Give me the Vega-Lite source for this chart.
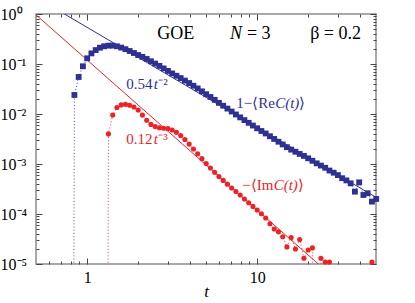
{
  "$schema": "https://vega.github.io/schema/vega-lite/v6.json",
  "width": 340,
  "height": 250,
  "autosize": "none",
  "padding": {"left": 36, "top": 14, "right": 39, "bottom": 39},
  "background": "white",
  "config": {
    "view": {"stroke": "#8c8c8c", "strokeWidth": 1.5},
    "axis": {"grid": false, "domain": false, "labelFont": "Liberation Serif", "labelFontSize": 16, "labelColor": "#000", "tickColor": "#444", "tickWidth": 1, "titleFont": "Liberation Serif", "titleFontWeight": "normal", "titleColor": "#000"},
    "text": {"font": "Liberation Serif"}
  },
  "datasets": {
    "re": [
      {"t": 0.794, "v": 1e-30},
      {"t": 0.841, "v": 0.024}, {"t": 0.891, "v": 0.055}, {"t": 0.944, "v": 0.09}, {"t": 1.0, "v": 0.13},
      {"t": 1.059, "v": 0.163}, {"t": 1.122, "v": 0.19}, {"t": 1.189, "v": 0.212}, {"t": 1.259, "v": 0.226},
      {"t": 1.334, "v": 0.233}, {"t": 1.413, "v": 0.233}, {"t": 1.496, "v": 0.226}, {"t": 1.585, "v": 0.213},
      {"t": 1.679, "v": 0.198}, {"t": 1.778, "v": 0.182}, {"t": 1.884, "v": 0.166}, {"t": 1.995, "v": 0.151},
      {"t": 2.113, "v": 0.139}, {"t": 2.239, "v": 0.126}, {"t": 2.371, "v": 0.1134}, {"t": 2.512, "v": 0.1019},
      {"t": 2.661, "v": 0.0916}, {"t": 2.818, "v": 0.0816}, {"t": 2.985, "v": 0.0727}, {"t": 3.162, "v": 0.0648},
      {"t": 3.35, "v": 0.0582}, {"t": 3.548, "v": 0.0523}, {"t": 3.758, "v": 0.0466}, {"t": 3.981, "v": 0.0416},
      {"t": 4.217, "v": 0.0368}, {"t": 4.467, "v": 0.0325}, {"t": 4.732, "v": 0.0284}, {"t": 5.012, "v": 0.0249},
      {"t": 5.309, "v": 0.0219}, {"t": 5.623, "v": 0.0192}, {"t": 5.957, "v": 0.0167}, {"t": 6.31, "v": 0.01465},
      {"t": 6.683, "v": 0.01282}, {"t": 7.079, "v": 0.01121}, {"t": 7.499, "v": 0.00979}, {"t": 7.943, "v": 0.00856},
      {"t": 8.414, "v": 0.00755}, {"t": 8.913, "v": 0.00666}, {"t": 9.441, "v": 0.00588}, {"t": 10.0, "v": 0.00518},
      {"t": 10.59, "v": 0.00457}, {"t": 11.22, "v": 0.00408}, {"t": 11.89, "v": 0.00359}, {"t": 12.59, "v": 0.00317},
      {"t": 13.34, "v": 0.00279}, {"t": 14.13, "v": 0.00246}, {"t": 14.96, "v": 0.00217}, {"t": 15.85, "v": 0.00194},
      {"t": 16.79, "v": 0.00176}, {"t": 17.78, "v": 0.00159}, {"t": 18.84, "v": 0.00145}, {"t": 19.95, "v": 0.0013},
      {"t": 21.13, "v": 0.00116}, {"t": 22.39, "v": 0.00103}, {"t": 23.71, "v": 0.00093}, {"t": 25.12, "v": 0.00084},
      {"t": 26.61, "v": 0.00074}, {"t": 28.18, "v": 0.00067}, {"t": 29.85, "v": 0.0006}, {"t": 31.62, "v": 0.00052},
      {"t": 33.5, "v": 0.00047}, {"t": 35.48, "v": 0.00041}, {"t": 37.58, "v": 0.00028}, {"t": 39.81, "v": 0.00043},
      {"t": 42.17, "v": 0.00024}, {"t": 44.67, "v": 0.00026}, {"t": 47.32, "v": 0.000177}, {"t": 50.12, "v": 0.0002}
    ],
    "im": [
      {"t": 1.259, "v": 1e-30},
      {"t": 1.334, "v": 0.004}, {"t": 1.413, "v": 0.0095}, {"t": 1.496, "v": 0.0135}, {"t": 1.585, "v": 0.0152},
      {"t": 1.679, "v": 0.0156}, {"t": 1.778, "v": 0.015}, {"t": 1.884, "v": 0.0138}, {"t": 1.995, "v": 0.012},
      {"t": 2.113, "v": 0.0095}, {"t": 2.239, "v": 0.0075}, {"t": 2.371, "v": 0.0062}, {"t": 2.512, "v": 0.0056},
      {"t": 2.661, "v": 0.0053}, {"t": 2.818, "v": 0.0052}, {"t": 2.985, "v": 0.0051}, {"t": 3.162, "v": 0.0048},
      {"t": 3.35, "v": 0.0043}, {"t": 3.548, "v": 0.0037}, {"t": 3.758, "v": 0.0031}, {"t": 3.981, "v": 0.0025},
      {"t": 4.217, "v": 0.002}, {"t": 4.467, "v": 0.0016}, {"t": 4.732, "v": 0.00128}, {"t": 5.012, "v": 0.00102},
      {"t": 5.309, "v": 0.00083}, {"t": 5.623, "v": 0.00068}, {"t": 5.957, "v": 0.00056}, {"t": 6.31, "v": 0.00047},
      {"t": 6.683, "v": 0.000395}, {"t": 7.079, "v": 0.00033}, {"t": 7.499, "v": 0.000282}, {"t": 7.943, "v": 0.00024},
      {"t": 8.414, "v": 0.0002}, {"t": 8.913, "v": 0.000168}, {"t": 9.441, "v": 0.000142}, {"t": 10.0, "v": 0.00012},
      {"t": 10.59, "v": 0.000101}, {"t": 11.22, "v": 0.000083}, {"t": 11.89, "v": 0.000064}, {"t": 12.59, "v": 0.00005},
      {"t": 13.34, "v": 0.000044}, {"t": 14.13, "v": 0.000035}, {"t": 14.96, "v": 0.000022}, {"t": 15.85, "v": 0.000034},
      {"t": 16.79, "v": 0.00002}, {"t": 17.78, "v": 0.000031}, {"t": 18.84, "v": 0.000013}, {"t": 19.95, "v": 0.000019},
      {"t": 21.13, "v": 0.000021}, {"t": 22.39, "v": 1e-30}, {"t": 23.71, "v": 0.000013}, {"t": 25.12, "v": 0.000011},
      {"t": 26.61, "v": 0.000011}, {"t": 28.18, "v": 1e-30}, {"t": 44.67, "v": 1e-30}, {"t": 47.32, "v": 0.000011},
      {"t": 50.12, "v": 1e-30}
    ],
    "fits": [
      {"series": "Re", "t": 0.5, "v": 2.16}, {"series": "Re", "t": 50, "v": 0.000216},
      {"series": "Im", "t": 0.5, "v": 0.96}, {"series": "Im", "t": 50, "v": 9.6e-7}
    ],
    "roman": [
      {"series": "note", "t": 2.58, "v": 0.316, "text": "GOE"},
      {"series": "note", "t": 8.70, "v": 0.316, "text": "= 3"},
      {"series": "note", "t": 20.5, "v": 0.316, "text": "β = 0.2"},
      {"series": "Re", "t": 1.696, "v": 0.0316, "text": "0.54"},
      {"series": "Re", "t": 2.617, "v": 0.0316, "text": "⁻²"},
      {"series": "Im", "t": 1.696, "v": 0.00251, "text": "0.12"},
      {"series": "Im", "t": 2.617, "v": 0.00251, "text": "⁻³"},
      {"series": "Re", "t": 7.52, "v": 0.01318, "text": "1−"},
      {"series": "Re", "t": 9.35, "v": 0.01318, "text": "⟨Re"},
      {"series": "Re", "t": 17.66, "v": 0.01318, "text": "⟩"},
      {"series": "Im", "t": 8.13, "v": 0.000302, "text": "−"},
      {"series": "Im", "t": 9.16, "v": 0.000302, "text": "⟨Im"},
      {"series": "Im", "t": 17.43, "v": 0.000302, "text": "⟩"}
    ],
    "italic": [
      {"series": "note", "t": 6.93, "v": 0.316, "text": "N"},
      {"series": "Re", "t": 2.461, "v": 0.0316, "text": "t"},
      {"series": "Im", "t": 2.461, "v": 0.00251, "text": "t"},
      {"series": "Re", "t": 12.76, "v": 0.01318, "text": "C(t)"},
      {"series": "Im", "t": 12.5, "v": 0.000302, "text": "C(t)"}
    ]
  },
  "resolve": {"axis": {"x": "independent", "y": "independent"}},
  "layer": [
    {
      "data": {"name": "fits"},
      "mark": {"type": "line", "strokeWidth": 1, "clip": true},
      "encoding": {
        "x": {"field": "t", "type": "quantitative", "scale": {"type": "log", "domain": [0.5, 50], "nice": false},
              "axis": {"orient": "bottom", "values": [1, 10], "format": "d", "ticks": false, "labelPadding": 5, "labelFont": "Liberation Serif", "labelFontSize": 16, "title": "t", "titleFont": "Liberation Serif", "titleFontStyle": "italic", "titleFontSize": 17, "titlePadding": -2}},
        "y": {"field": "v", "type": "quantitative", "scale": {"type": "log", "domain": [0.00001, 1], "nice": false},
              "axis": {"orient": "left", "values": [0.00001, 0.0001, 0.001, 0.01, 0.1, 1], "ticks": false, "labelAlign": "left", "labelPadding": 36, "labelBaseline": "middle", "labelFont": "Liberation Serif", "labelFontSize": 16, "title": null,
                       "labelExpr": "datum.value > 0.5 ? '10⁰' : datum.value > 0.05 ? '10⁻¹' : datum.value > 0.005 ? '10⁻²' : datum.value > 0.0005 ? '10⁻³' : datum.value > 0.00005 ? '10⁻⁴' : '10⁻⁵'"}},
        "color": {"field": "series", "type": "nominal", "scale": {"domain": ["Re", "Im", "note"], "range": ["#2e3192", "#ed2227", "#000000"]}, "legend": null},
        "detail": {"field": "series"}
      }
    },
    {
      "data": {"name": "re"},
      "mark": {"type": "line", "color": "#2e3192", "strokeWidth": 1, "strokeDash": [1.2, 2], "opacity": 0.75, "clip": true},
      "encoding": {
        "x": {"field": "t", "type": "quantitative", "scale": {"type": "log", "domain": [0.5, 50], "nice": false},
              "axis": {"orient": "bottom", "values": [1, 10], "labels": false, "tickSize": -6, "title": null}},
        "y": {"field": "v", "type": "quantitative", "scale": {"type": "log", "domain": [0.00001, 1], "nice": false},
              "axis": {"orient": "left", "values": [0.00001, 0.0001, 0.001, 0.01, 0.1, 1], "labels": false, "tickSize": -6, "title": null}}
      }
    },
    {
      "data": {"name": "im"},
      "mark": {"type": "line", "color": "#ed2227", "strokeWidth": 1, "strokeDash": [1.2, 2], "opacity": 0.75, "clip": true},
      "encoding": {
        "x": {"field": "t", "type": "quantitative", "scale": {"type": "log", "domain": [0.5, 50], "nice": false},
              "axis": {"orient": "bottom", "values": [0.6, 0.7, 0.8, 0.9, 2, 3, 4, 5, 6, 7, 8, 9, 20, 30, 40], "labels": false, "tickSize": -3, "title": null}},
        "y": {"field": "v", "type": "quantitative", "scale": {"type": "log", "domain": [0.00001, 1], "nice": false},
              "axis": {"orient": "left", "values": [0.00002, 0.00003, 0.00004, 0.00005, 0.00006, 0.00007, 0.00008, 0.00009, 0.0002, 0.0003, 0.0004, 0.0005, 0.0006, 0.0007, 0.0008, 0.0009, 0.002, 0.003, 0.004, 0.005, 0.006, 0.007, 0.008, 0.009, 0.02, 0.03, 0.04, 0.05, 0.06, 0.07, 0.08, 0.09, 0.2, 0.3, 0.4, 0.5, 0.6, 0.7, 0.8, 0.9], "labels": false, "tickSize": -3, "title": null}}
      }
    },
    {
      "data": {"name": "re"},
      "transform": [{"filter": "datum.v > 0.000001"}],
      "mark": {"type": "point", "shape": "square", "filled": true, "size": 34, "color": "#2e3192", "opacity": 1},
      "encoding": {
        "x": {"field": "t", "type": "quantitative", "scale": {"type": "log", "domain": [0.5, 50], "nice": false},
              "axis": {"orient": "top", "values": [1, 10], "labels": false, "tickSize": -6, "title": null}},
        "y": {"field": "v", "type": "quantitative", "scale": {"type": "log", "domain": [0.00001, 1], "nice": false},
              "axis": {"orient": "right", "values": [0.00001, 0.0001, 0.001, 0.01, 0.1, 1], "labels": false, "tickSize": -6, "title": null}}
      }
    },
    {
      "data": {"name": "im"},
      "transform": [{"filter": "datum.v > 0.000001"}],
      "mark": {"type": "point", "shape": "circle", "filled": true, "size": 26, "color": "#ed2227", "opacity": 1},
      "encoding": {
        "x": {"field": "t", "type": "quantitative", "scale": {"type": "log", "domain": [0.5, 50], "nice": false},
              "axis": {"orient": "top", "values": [0.6, 0.7, 0.8, 0.9, 2, 3, 4, 5, 6, 7, 8, 9, 20, 30, 40], "labels": false, "tickSize": -3, "title": null}},
        "y": {"field": "v", "type": "quantitative", "scale": {"type": "log", "domain": [0.00001, 1], "nice": false},
              "axis": {"orient": "right", "values": [0.00002, 0.00003, 0.00004, 0.00005, 0.00006, 0.00007, 0.00008, 0.00009, 0.0002, 0.0003, 0.0004, 0.0005, 0.0006, 0.0007, 0.0008, 0.0009, 0.002, 0.003, 0.004, 0.005, 0.006, 0.007, 0.008, 0.009, 0.02, 0.03, 0.04, 0.05, 0.06, 0.07, 0.08, 0.09, 0.2, 0.3, 0.4, 0.5, 0.6, 0.7, 0.8, 0.9], "labels": false, "tickSize": -3, "title": null}}
      }
    },
    {
      "data": {"name": "roman"},
      "transform": [{"filter": "datum.series != 'note'"}],
      "mark": {"type": "text", "align": "left", "baseline": "alphabetic", "fontSize": 15, "font": "Liberation Serif"},
      "encoding": {
        "x": {"field": "t", "type": "quantitative", "scale": {"type": "log", "domain": [0.5, 50], "nice": false}, "axis": null},
        "y": {"field": "v", "type": "quantitative", "scale": {"type": "log", "domain": [0.00001, 1], "nice": false}, "axis": null},
        "text": {"field": "text"},
        "color": {"field": "series", "type": "nominal", "legend": null}
      }
    },
    {
      "data": {"name": "italic"},
      "transform": [{"filter": "datum.series != 'note'"}],
      "mark": {"type": "text", "align": "left", "baseline": "alphabetic", "fontSize": 15, "fontStyle": "italic", "font": "Liberation Serif"},
      "encoding": {
        "x": {"field": "t", "type": "quantitative", "scale": {"type": "log", "domain": [0.5, 50], "nice": false}, "axis": null},
        "y": {"field": "v", "type": "quantitative", "scale": {"type": "log", "domain": [0.00001, 1], "nice": false}, "axis": null},
        "text": {"field": "text"},
        "color": {"field": "series", "type": "nominal", "legend": null}
      }
    },
    {
      "data": {"name": "roman"},
      "transform": [{"filter": "datum.series == 'note'"}],
      "mark": {"type": "text", "align": "left", "baseline": "alphabetic", "fontSize": 18, "font": "Liberation Serif"},
      "encoding": {
        "x": {"field": "t", "type": "quantitative", "scale": {"type": "log", "domain": [0.5, 50], "nice": false}, "axis": null},
        "y": {"field": "v", "type": "quantitative", "scale": {"type": "log", "domain": [0.00001, 1], "nice": false}, "axis": null},
        "text": {"field": "text"},
        "color": {"field": "series", "type": "nominal", "legend": null}
      }
    },
    {
      "data": {"name": "italic"},
      "transform": [{"filter": "datum.series == 'note'"}],
      "mark": {"type": "text", "align": "left", "baseline": "alphabetic", "fontSize": 18, "fontStyle": "italic", "font": "Liberation Serif"},
      "encoding": {
        "x": {"field": "t", "type": "quantitative", "scale": {"type": "log", "domain": [0.5, 50], "nice": false}, "axis": null},
        "y": {"field": "v", "type": "quantitative", "scale": {"type": "log", "domain": [0.00001, 1], "nice": false}, "axis": null},
        "text": {"field": "text"},
        "color": {"field": "series", "type": "nominal", "legend": null}
      }
    }
  ]
}
